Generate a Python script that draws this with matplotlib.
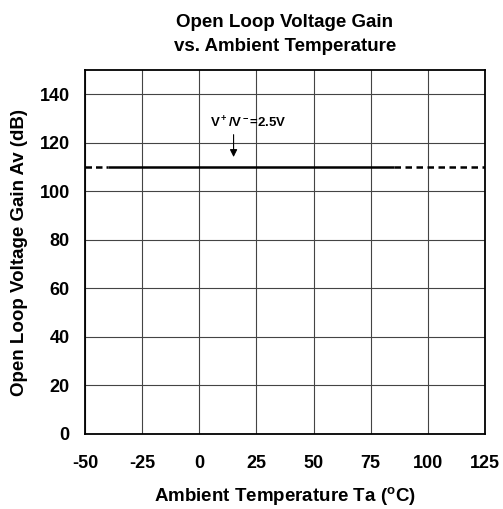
import matplotlib
matplotlib.use("Agg")
import matplotlib.pyplot as plt

plt.rcParams['font.family'] = ['Liberation Sans', 'DejaVu Sans']
plt.rcParams['font.weight'] = 'bold'
plt.rcParams['axes.unicode_minus'] = False
plt.rcParams['mathtext.fontset'] = 'custom'
plt.rcParams['mathtext.rm'] = 'Liberation Sans:bold'
plt.rcParams['mathtext.bf'] = 'Liberation Sans:bold'
plt.rcParams['mathtext.it'] = 'Liberation Sans:bold'
plt.rcParams['mathtext.default'] = 'bf'

temp_solid = [-40, 85]
gain_solid = [110, 110]
temp_dash_left = [-50, -40]
gain_dash_left = [110, 110]
temp_dash_right = [85, 125]
gain_dash_right = [110, 110]
xticks = [-50, -25, 0, 25, 50, 75, 100, 125]
yticks = [0, 20, 40, 60, 80, 100, 120, 140]

fig = plt.figure(figsize=(5.03, 5.09), dpi=100)
ax = fig.add_axes([85/503, 1-434/509, 400/503, 364/509])

ax.plot(temp_solid, gain_solid, color='black', lw=1.8, solid_capstyle='butt', zorder=3)
ax.plot(temp_dash_left, gain_dash_left, color='black', lw=1.8, ls=(0, (2.6, 1.6)), zorder=3)
ax.plot(temp_dash_right, gain_dash_right, color='black', lw=1.8, ls=(0, (2.6, 1.8)), zorder=3)

ax.set_xlim(-50, 125)
ax.set_ylim(0, 150)
ax.set_xticks(xticks)
ax.set_yticks(yticks)
ax.tick_params(axis='y', length=0, labelsize=13, pad=11)
ax.tick_params(axis='x', length=0, labelsize=13, pad=15)
for lab in ax.get_xticklabels() + ax.get_yticklabels():
    lab.set_fontweight('bold')
ax.grid(True, color='#444444', lw=0.8)
for s in ax.spines.values():
    s.set_linewidth(1.3)
    s.set_color('black')

ax.annotate('', xy=(15, 113), xytext=(15, 124.5),
            arrowprops=dict(arrowstyle='-|>', color='black', lw=0.8, mutation_scale=11))
ax.text(21.5, 128, r'V$^+$/V$^-$=2.5V', ha='center', va='center', fontsize=9.5, fontweight='bold')

ax.set_xlabel(r'Ambient Temperature Ta ($^\mathrm{o}$C)', fontsize=13.5, fontweight='bold')
ax.xaxis.set_label_coords(0.5, (434-485)/364)
ax.set_ylabel('Open Loop Voltage Gain Av (dB)', fontsize=13.5, fontweight='bold')
ax.yaxis.set_label_coords((28-85)/400, 0.5)
ax.set_title('Open Loop Voltage Gain\nvs. Ambient Temperature', fontsize=13.5, fontweight='bold',
             pad=14, linespacing=1.5)

fig.savefig('out.png', dpi=100)
